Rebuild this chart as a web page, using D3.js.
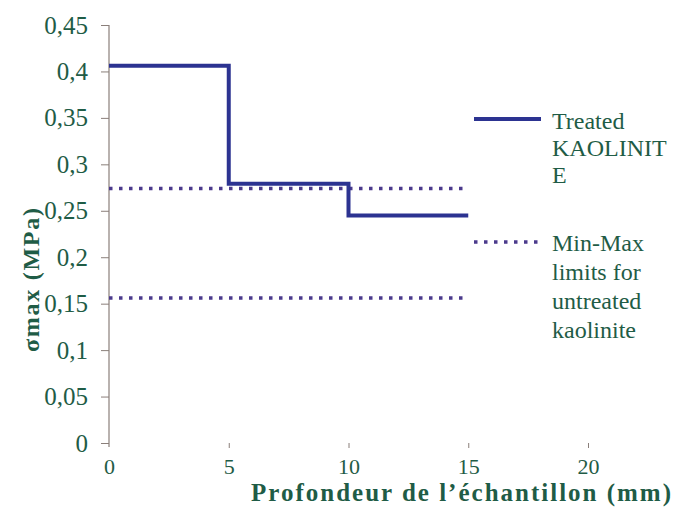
<!DOCTYPE html>
<html>
<head>
<meta charset="utf-8">
<script src="https://cdn.jsdelivr.net/npm/d3@7"></script>
<style>
  html, body { margin: 0; padding: 0; background: #ffffff; }
  svg { display: block; }
</style>
</head>
<body>
<svg id="chart" width="678" height="507"></svg>
<script>
// ---- data ----
const treatedX = [0, 5, 5, 10, 10, 15];
const treatedY = [0.406, 0.406, 0.279, 0.279, 0.245, 0.245];
const limitsX = [0, 15];
const limitMax = 0.274;
const limitMin = 0.156;
const xTicks = [0, 5, 10, 15, 20];
const yTicks = [0, 0.05, 0.1, 0.15, 0.2, 0.25, 0.3, 0.35, 0.4, 0.45];
const legendTreated = ["Treated", "KAOLINIT", "E"];
const legendLimits = ["Min-Max", "limits for", "untreated", "kaolinite"];
const xTitle = "Profondeur de l\u2019échantillon (mm)";
const yTitle = "σmax (MPa)";

const textColor = "#1f5c46";
const lineColor = "#2c3391";
const dotColor = "#4b3a8c";
const axisColor = "#8a7f7a";
const font = "Liberation Serif";

const svg = d3.select("#chart");
const x = d3.scaleLinear().domain([0, 20]).range([109, 588]);
const y = d3.scaleLinear().domain([0, 0.45]).range([443, 25]);

function styleText(sel, size, weight) {
  sel.attr("font-family", font).attr("font-size", size)
     .attr("font-weight", weight || "normal").attr("fill", textColor);
}

// y axis
const yAxis = d3.axisLeft(y).tickValues(yTicks)
  .tickFormat(d => d3.format(".2~f")(d).replace(".", ","))
  .tickSize(8).tickSizeOuter(0).tickPadding(13);
const gy = svg.append("g").attr("transform", `translate(${x(0)},0)`).call(yAxis);
gy.attr("font-family", null).attr("font-size", null);
gy.select(".domain").attr("stroke", axisColor).attr("stroke-width", 1.2)
  .attr("d", `M0,${y(0.45)}V${y(0) + 4}`);
gy.selectAll(".tick line").attr("stroke", axisColor);
styleText(gy.selectAll(".tick text"), 25);

// x axis (ticks only)
const xAxis = d3.axisBottom(x).tickValues(xTicks).tickFormat(d3.format("d"))
  .tickSize(5).tickSizeOuter(0).tickPadding(10);
const gx = svg.append("g").attr("transform", `translate(0,${y(0)})`).call(xAxis);
gx.attr("font-family", null).attr("font-size", null);
gx.select(".domain").remove();
gx.selectAll(".tick line").attr("stroke", axisColor);
gx.selectAll(".tick").filter(d => d === 0).select("line").remove();
styleText(gx.selectAll(".tick text"), 22);

// limit lines
[limitMax, limitMin].forEach(v => {
  svg.append("line")
    .attr("x1", x(limitsX[0])).attr("x2", x(limitsX[1]))
    .attr("y1", y(v)).attr("y2", y(v))
    .attr("stroke", dotColor).attr("stroke-width", 3.5)
    .attr("stroke-dasharray", "3.5,6.5");
});

// treated step line
const pts = treatedX.map((d, i) => [d, treatedY[i]]);
svg.append("path")
  .attr("d", d3.line().x(d => x(d[0])).y(d => y(d[1]))(pts))
  .attr("fill", "none").attr("stroke", lineColor).attr("stroke-width", 4)
  .attr("stroke-linejoin", "miter");

// legend
const lg = svg.append("g");
lg.append("line").attr("x1", 474).attr("x2", 541).attr("y1", 119).attr("y2", 119)
  .attr("stroke", lineColor).attr("stroke-width", 4);
lg.append("line").attr("x1", 474).attr("x2", 540).attr("y1", 242).attr("y2", 242)
  .attr("stroke", dotColor).attr("stroke-width", 3.5).attr("stroke-dasharray", "3.5,6.5");
styleText(lg.selectAll("text.t1").data(legendTreated).enter().append("text")
  .attr("x", 552).attr("y", (d, i) => 129 + i * 27).text(d => d), 24);
styleText(lg.selectAll("text.t2").data(legendLimits).enter().append("text")
  .attr("x", 552).attr("y", (d, i) => 251 + i * 29).text(d => d), 24);

// titles
styleText(svg.append("text").attr("x", 461).attr("y", 501).attr("text-anchor", "middle")
  .attr("textLength", 420).attr("lengthAdjust", "spacing")
  .text(xTitle), 25, "bold");
styleText(svg.append("text").attr("transform", "translate(39,280) rotate(-90)")
  .attr("text-anchor", "middle").attr("textLength", 144).attr("lengthAdjust", "spacing")
  .text(yTitle), 24, "bold");
</script>
</body>
</html>
